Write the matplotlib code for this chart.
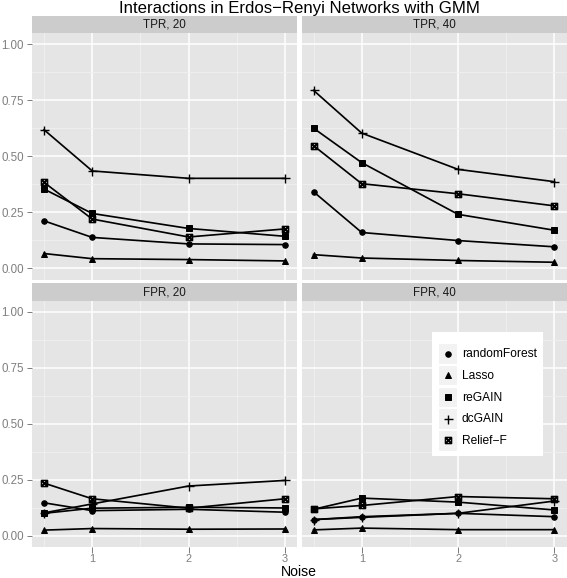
import matplotlib
matplotlib.use("Agg")
import matplotlib.pyplot as plt
from matplotlib.path import Path
from matplotlib.patches import Rectangle
from matplotlib.lines import Line2D
from matplotlib.legend_handler import HandlerBase

plt.rcParams['font.family'] = ['Liberation Sans', 'DejaVu Sans']

# ---------------- data ----------------
noise = [0.5, 1, 2, 3]
methods = ['randomForest', 'Lasso', 'reGAIN', 'dcGAIN', 'Relief\u2212F']

# order of rows follows `methods`
tpr_20 = [
    [0.212, 0.138, 0.109, 0.106],
    [0.066, 0.043, 0.039, 0.033],
    [0.354, 0.245, 0.178, 0.143],
    [0.619, 0.435, 0.402, 0.402],
    [0.384, 0.220, 0.140, 0.176],
]
tpr_40 = [
    [0.342, 0.160, 0.124, 0.096],
    [0.061, 0.046, 0.035, 0.027],
    [0.626, 0.472, 0.241, 0.170],
    [0.795, 0.604, 0.442, 0.387],
    [0.548, 0.378, 0.333, 0.279],
]
fpr_20 = [
    [0.147, 0.112, 0.118, 0.105],
    [0.025, 0.032, 0.029, 0.030],
    [0.100, 0.123, 0.127, 0.124],
    [0.102, 0.142, 0.222, 0.247],
    [0.235, 0.165, 0.123, 0.165],
]
fpr_40 = [
    [0.072, 0.085, 0.100, 0.085],
    [0.026, 0.034, 0.027, 0.027],
    [0.118, 0.168, 0.150, 0.115],
    [0.072, 0.082, 0.100, 0.155],
    [0.120, 0.135, 0.175, 0.165],
]
panel_titles = ['TPR, 20', 'TPR, 40', 'FPR, 20', 'FPR, 40']
x_ticks = [1, 2, 3]
y_ticks = [0.0, 0.25, 0.5, 0.75, 1.0]
y_ticklabels = ['0.00', '0.25', '0.50', '0.75', '1.00']
title = 'Interactions in Erdos\u2212Renyi Networks with GMM'
xlabel = 'Noise'

# ---------------- styling ----------------
W, H = 567, 578
DPI = 72
boxx = Path([(-1, -1), (1, -1), (1, 1), (-1, 1), (-1, -1),
             (-1, -1), (1, 1), (-1, 1), (1, -1)],
            [Path.MOVETO, Path.LINETO, Path.LINETO, Path.LINETO, Path.CLOSEPOLY,
             Path.MOVETO, Path.LINETO, Path.MOVETO, Path.LINETO])
styles = [
    dict(marker='o', markersize=5.5),
    dict(marker='^', markersize=6.5),
    dict(marker='s', markersize=5.5),
    dict(marker='+', markersize=9, markeredgewidth=1.4),
    dict(marker=boxx, markersize=6.0, markeredgewidth=1.6, fillstyle='none'),
]

fig = plt.figure(figsize=(W / DPI, H / DPI), dpi=DPI)

def px_axes(x0, x1, ytop, ybot):
    return fig.add_axes([x0 / W, 1 - ybot / H, (x1 - x0) / W, (ybot - ytop) / H])

pw = 265.0
lefts = [32.0, 301.5]
tops = [33.3, 300.7]
ph = 246.2
strip_h = 17.3

data = [tpr_20, tpr_40, fpr_20, fpr_40]
axes = []
for i in range(4):
    r, c = divmod(i, 2)
    ax = px_axes(lefts[c], lefts[c] + pw, tops[r], tops[r] + ph)
    axes.append(ax)
    ax.set_facecolor('#E5E5E5')
    for s in ax.spines.values():
        s.set_visible(False)
    ax.set_xlim(0.375, 3.125)
    ax.set_ylim(-0.05, 1.05)
    ax.set_xticks(x_ticks)
    ax.set_xticks([0.5, 1.5, 2.5], minor=True)
    ax.set_yticks(y_ticks)
    ax.set_yticklabels(y_ticklabels)
    ax.set_yticks([0.125, 0.375, 0.625, 0.875], minor=True)
    ax.grid(which='major', color='white', linewidth=1.5)
    ax.grid(which='minor', color='#F2F2F2', linewidth=0.7)
    ax.set_axisbelow(True)
    ax.tick_params(which='minor', length=0)
    ax.tick_params(which='major', color='#7F7F7F', labelcolor='#7F7F7F',
                   labelsize=11.5, length=5.5, width=1.0, pad=2.6)
    ax.tick_params(axis='x', pad=1.5, labelsize=11)
    if c == 1:
        ax.tick_params(axis='y', left=False, labelleft=False)
    if r == 0:
        ax.tick_params(axis='x', bottom=False, labelbottom=False)
    for k, m in enumerate(methods):
        ax.plot(noise, data[i][k], color='black', linewidth=1.7,
                markeredgecolor='black', markerfacecolor='black',
                **styles[k], zorder=3, label=m)
    # facet strip
    ax.add_patch(Rectangle((0, 1), 1, strip_h / ph, transform=ax.transAxes,
                           facecolor='#CCCCCC', edgecolor='none', clip_on=False))
    ax.text(0.5, 1 + strip_h / 2 / ph, panel_titles[i], transform=ax.transAxes,
            ha='center', va='center', fontsize=11.6, color='#1A1A1A')

fig.text((32 + 566.5) / 2 / W, 1 - 12.8 / H, title, ha='center', va='baseline',
         fontsize=16.8, color='black')
fig.text((32 + 566.5) / 2 / W, 1 - 576.5 / H, xlabel, ha='center', va='baseline',
         fontsize=14, color='black')


class KeyHandler(HandlerBase):
    def create_artists(self, legend, orig_handle, xdescent, ydescent,
                       width, height, fontsize, trans):
        rect = Rectangle((-xdescent, -ydescent), width, height,
                         facecolor='#F2F2F2', edgecolor='white', linewidth=1,
                         transform=trans)
        ln = Line2D([width / 2 - xdescent], [height / 2 - ydescent],
                    linestyle='none', marker=orig_handle.get_marker(),
                    markersize=orig_handle.get_markersize(),
                    markeredgewidth=orig_handle.get_markeredgewidth(),
                    fillstyle=orig_handle.get_fillstyle(),
                    color='black', transform=trans)
        return [rect, ln]


handles = axes[3].get_lines()[:len(methods)]
leg = axes[3].legend(handles, methods, loc='upper left',
                     bbox_to_anchor=((432.3 - lefts[1]) / pw, (tops[1] + ph - 332.3) / ph),
                     handler_map={Line2D: KeyHandler()},
                     fontsize=12, handlelength=1.6, handleheight=2.25,
                     labelspacing=0.1, handletextpad=0.38, borderpad=0.48,
                     borderaxespad=0, frameon=True, fancybox=False,
                     title=' ', title_fontsize=4)
leg.get_frame().set_facecolor('white')
leg.get_frame().set_edgecolor('none')
leg.get_frame().set_alpha(1)

fig.savefig('out.png', dpi=DPI)
